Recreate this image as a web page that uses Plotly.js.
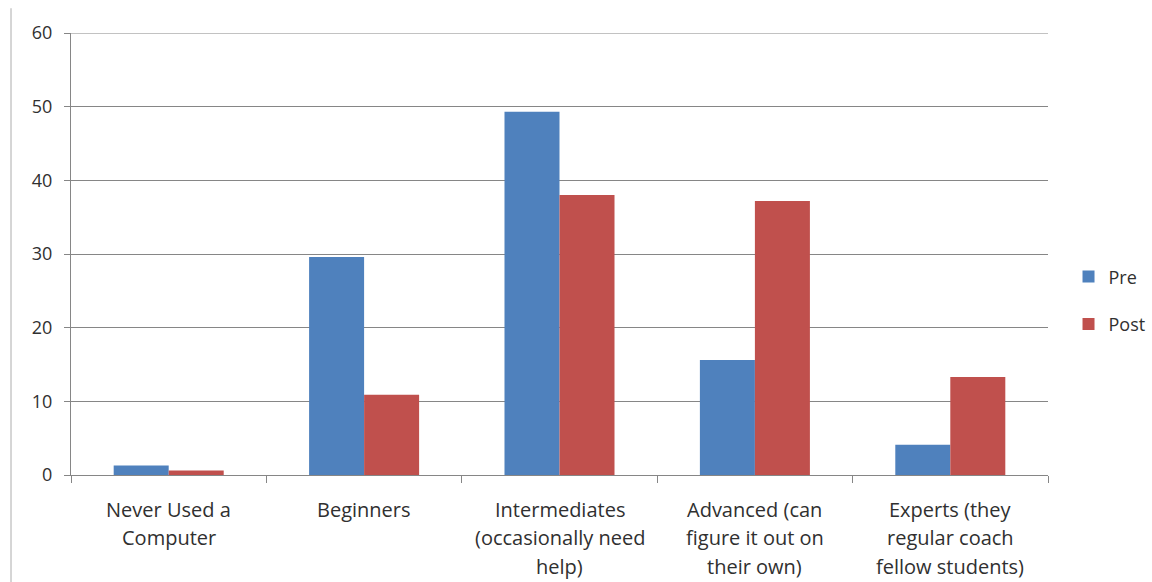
<!DOCTYPE html>
<html>
<head>
<meta charset="utf-8">
<script src="https://cdn.plot.ly/plotly-3.0.1.min.js"></script>
<style>
  html, body { margin: 0; padding: 0; background: #fff; }
  #chart { width: 1152px; height: 582px; }
</style>
</head>
<body>
<div id="chart"></div>
<script>
// Self-rated computer skill levels, before and after the programme
const categories = [
  "Never Used a<br>Computer",
  "Beginners",
  "Intermediates<br>(occasionally need<br>help)",
  "Advanced (can<br>figure it out on<br>their own)",
  "Experts (they<br>regular coach<br>fellow students)"
];
const preValues  = [1.3, 29.6, 49.3, 15.6, 4.1];
const postValues = [0.6, 10.9, 38.0, 37.2, 13.3];
const yTicks = [0, 10, 20, 30, 40, 50, 60];
const yMax = 60;

const textColor = "#303030";
const axisColor = "#868686";
const fontFamily = "'Open Sans', Lato, sans-serif";

const traces = [
  { type: "bar", name: "Pre",  x: categories, y: preValues,
    marker: { color: "#4F81BD" }, legendgroup: "pre" },
  { type: "bar", name: "Post", x: categories, y: postValues,
    marker: { color: "#C0504D" }, legendgroup: "post" }
];

// Category labels, one annotation per text line so the lines get roomy spacing
const labelAnnotations = [];
categories.forEach(function (cat) {
  cat.split("<br>").forEach(function (line, i) {
    labelAnnotations.push({
      x: cat, xref: "x", y: 0, yref: "paper",
      text: line, showarrow: false,
      yanchor: "middle", xanchor: "center",
      yshift: -34 - i * 28.5,
      font: { family: fontFamily, size: 20, color: textColor }
    });
  });
});

const layout = {
  width: 1152, height: 582,
  margin: { l: 71, r: 104, t: 33, b: 107, autoexpand: false },
  paper_bgcolor: "#ffffff",
  plot_bgcolor: "#ffffff",
  font: { family: fontFamily, size: 18, color: textColor },
  barmode: "group",
  bargap: 0.437,
  bargroupgap: 0,
  showlegend: true,
  legend: {
    x: 1.021, xanchor: "left", y: 0.395, yanchor: "middle",
    traceorder: "grouped", tracegroupgap: 21,
    font: { family: fontFamily, size: 18, color: textColor },
    bgcolor: "rgba(0,0,0,0)"
  },
  xaxis: {
    type: "category",
    showticklabels: false,
    ticks: "outside", ticklen: 7, tickcolor: axisColor,
    tickson: "boundaries",
    showline: true, linecolor: axisColor, linewidth: 1,
    showgrid: false, zeroline: false,
    fixedrange: true
  },
  yaxis: {
    range: [0, yMax],
    tickvals: yTicks,
    ticks: "outside", ticklen: 6, tickcolor: axisColor,
    ticklabelstandoff: 8,
    tickfont: { family: fontFamily, size: 18, color: textColor },
    showline: true, linecolor: axisColor, linewidth: 1,
    showgrid: true, gridcolor: axisColor, gridwidth: 1,
    zeroline: true, zerolinecolor: axisColor, zerolinewidth: 1,
    fixedrange: true
  },
  annotations: labelAnnotations,
  shapes: [
    // gridline along the top of the value range
    { type: "line", xref: "paper", yref: "y",
      x0: 0, x1: 1, y0: yMax, y1: yMax,
      line: { color: axisColor, width: 1 } },
    // thin frame edge down the left side of the chart area
    { type: "line", xref: "paper", yref: "paper",
      x0: -0.0614, x1: -0.0614, y0: 1.056, y1: -0.25,
      line: { color: "#c8c8c8", width: 1.5 } }
  ]
};

Plotly.newPlot("chart", traces, layout, { displayModeBar: false, staticPlot: true });
</script>
</body>
</html>
